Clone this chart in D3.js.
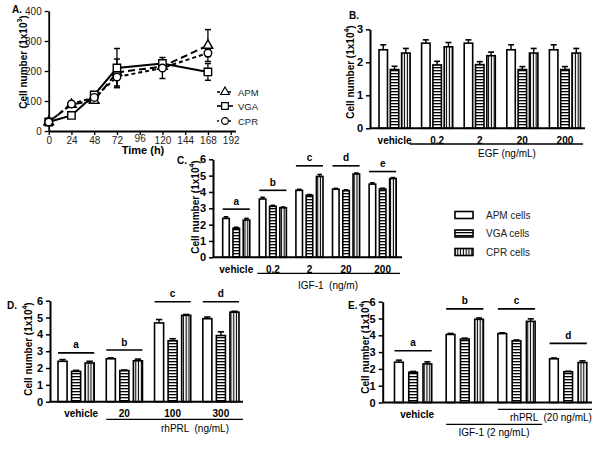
<!DOCTYPE html>
<html><head><meta charset="utf-8">
<script src="https://cdn.jsdelivr.net/npm/d3@7"></script>
<style>
body{margin:0;background:#fff;}
svg{display:block;font-family:"Liberation Sans",Arial,sans-serif;}
</style></head>
<body><svg id="c" width="600" height="450"></svg>
<script>
// ---------- DATA ----------
const seriesNames = ["APM", "VGA", "CPR"];
const legendLabels = ["APM cells", "VGA cells", "CPR cells"];

// Panel A: growth curves
const timeHours = [0, 24, 48, 72, 120, 168];
const timeTicks = [0, 24, 48, 72, 96, 120, 144, 168, 192];
const countTicksA = [0, 100, 200, 300, 400];
const apmA = [30, 88, 102, 195, 215, 285];
const apmAErr = [4, 6, 8, 45, 12, 53];
const vgaA = [30, 52, 120, 210, 225, 197];
const vgaAErr = [4, 5, 8, 65, 10, 28];
const cprA = [30, 90, 112, 180, 210, 260];
const cprAErr = [4, 5, 6, 35, 35, 12];

// Panel B: EGF
const groupsB = ["vehicle", "0.2", "2", "20", "200"];
const apmB = [2.38, 2.58, 2.58, 2.38, 2.38];
const vgaB = [1.78, 1.92, 1.93, 1.78, 1.78];
const cprB = [2.28, 2.47, 2.2, 2.28, 2.28];
const apmBErr = [0.15, 0.1, 0.1, 0.15, 0.15];
const vgaBErr = [0.1, 0.11, 0.09, 0.09, 0.09];
const cprBErr = [0.14, 0.13, 0.11, 0.14, 0.14];

// Panel C: IGF-1
const groupsC = ["vehicle", "0.2", "2", "20", "200"];
const apmC = [2.38, 3.57, 4.1, 4.17, 4.48];
const vgaC = [1.78, 3.12, 3.8, 4.08, 4.18];
const cprC = [2.28, 3.03, 4.95, 5.1, 4.82];
const apmCErr = [0.1, 0.1, 0.06, 0.05, 0.08];
const vgaCErr = [0.06, 0.06, 0.04, 0.05, 0.05];
const cprCErr = [0.1, 0.05, 0.12, 0.06, 0.06];
const sigC = ["a", "b", "c", "d", "e"];
const sigLevelC = [2.95, 4.1, 5.6, 5.6, 5.25];

// Panel D: rhPRL
const groupsD = ["vehicle", "20", "100", "300"];
const apmD = [2.4, 2.55, 4.68, 4.93];
const vgaD = [1.8, 1.85, 3.62, 3.93];
const cprD = [2.3, 2.43, 5.13, 5.32];
const apmDErr = [0.1, 0.05, 0.2, 0.1];
const vgaDErr = [0.06, 0.03, 0.12, 0.22];
const cprDErr = [0.1, 0.1, 0.05, 0.05];
const sigD = ["a", "b", "c", "d"];
const sigLevelD = [2.9, 3.07, 5.94, 5.94];

// Panel E: IGF-1 + rhPRL
const groupsE = ["vehicle", "IGF-1", "IGF-1+rhPRL", "rhPRL"];
const groupLabelsE = ["vehicle", "", "", ""];
const apmE = [2.4, 4.05, 4.1, 2.6];
const vgaE = [1.8, 3.78, 3.67, 1.83];
const cprE = [2.3, 4.95, 4.83, 2.38];
const apmEErr = [0.12, 0.06, 0.05, 0.05];
const vgaEErr = [0.05, 0.05, 0.05, 0.03];
const cprEErr = [0.12, 0.08, 0.15, 0.1];
const sigE = ["a", "b", "c", "d"];
const sigLevelE = [3.08, 5.57, 5.57, 3.52];

const ticks6 = [0, 1, 2, 3, 4, 5, 6];
const ticks3 = [0, 1, 2, 3];

// ---------- SETUP ----------
const svg = d3.select("#c");
svg.append("rect").attr("width", 600).attr("height", 450).attr("fill", "#fff");
const defs = svg.append("defs");
const hp = defs.append("pattern").attr("id", "hs").attr("patternUnits", "userSpaceOnUse")
  .attr("width", 6).attr("height", 3);
hp.append("rect").attr("width", 6).attr("height", 3).attr("fill", "#fff");
hp.append("rect").attr("y", 1).attr("width", 6).attr("height", 1.3).attr("fill", "#000");
const vp = defs.append("pattern").attr("id", "vs").attr("patternUnits", "userSpaceOnUse")
  .attr("width", 2.8).attr("height", 6);
vp.append("rect").attr("width", 2.8).attr("height", 6).attr("fill", "#fff");
vp.append("rect").attr("x", 0.8).attr("width", 1.1).attr("height", 6).attr("fill", "#000");
const fills = {APM: "#fff", VGA: "url(#hs)", CPR: "url(#vs)"};

function ylabel(g, x, y, pow) {
  const t = g.append("text").attr("transform", `translate(${x},${y}) rotate(-90)`)
    .attr("text-anchor", "middle").attr("font-size", 10).attr("font-weight", "bold")
    .attr("dominant-baseline", "central");
  t.append("tspan").text("Cell number (1x10");
  t.append("tspan").attr("font-size", 7).attr("dy", -4).text(pow);
  t.append("tspan").attr("dy", 4).text(")");
}
function panelLetter(x, y, s) {
  svg.append("text").attr("x", x).attr("y", y).attr("font-size", 10).attr("font-weight", "bold").text(s);
}

// ---------- PANEL A ----------
(function () {
  const g = svg.append("g");
  const x = d3.scaleLinear().domain([0, 197]).range([48.7, 235.4]);
  const y = d3.scaleLinear().domain([0, 400]).range([131, 11]);
  const ax = g.append("g").attr("transform", "translate(0,131)")
    .call(d3.axisBottom(x).tickValues(timeTicks).tickSize(4).tickSizeOuter(0));
  const ay = g.append("g").attr("transform", "translate(48.7,0)")
    .call(d3.axisLeft(y).tickValues(countTicksA).tickSize(4).tickSizeOuter(0));
  [ax, ay].forEach(a => {
    a.select(".domain").attr("stroke-width", 1.8);
    a.selectAll(".tick line").attr("stroke-width", 1.3);
    a.selectAll("text").attr("font-size", 10).attr("fill", "#222")
      .attr("font-family", "'Liberation Sans Narrow','Liberation Sans',Arial,sans-serif");
  });
  ax.selectAll("text").attr("dy", d => d === 96 ? "0.4em" : "0.6em");
  g.append("text").attr("x", 143).attr("y", 154).attr("text-anchor", "middle")
    .attr("font-size", 11).attr("font-weight", "bold").text("Time (h)");
  ylabel(g, 23, 62, "3");
  panelLetter(12, 13, "A.");

  const series = [
    {name: "APM", v: apmA, e: apmAErr, dash: "7,4", sym: d3.symbolTriangle, size: 40},
    {name: "VGA", v: vgaA, e: vgaAErr, dash: null, sym: d3.symbolSquare, size: 55},
    {name: "CPR", v: cprA, e: cprAErr, dash: "4,3", sym: d3.symbolCircle, size: 45}
  ];
  const line = d3.line();
  series.forEach(s => {
    const pts = timeHours.map((t, i) => [x(t), y(s.v[i])]);
    timeHours.forEach((t, i) => {
      const cx = x(t);
      const y1 = y(s.v[i] + s.e[i]), y0 = y(s.v[i] - s.e[i]);
      g.append("line").attr("x1", cx).attr("x2", cx).attr("y1", y1).attr("y2", y0)
        .attr("stroke", "#000").attr("stroke-width", 1.3);
      [y1, y0].forEach(yy => g.append("line").attr("x1", cx - 3).attr("x2", cx + 3)
        .attr("y1", yy).attr("y2", yy).attr("stroke", "#000").attr("stroke-width", 1.5));
    });
    g.append("path").attr("d", line(pts)).attr("fill", "none").attr("stroke", "#000")
      .attr("stroke-width", 2).attr("stroke-dasharray", s.dash);
  });
  series.forEach(s => {
    timeHours.forEach((t, i) => {
      g.append("path").attr("d", d3.symbol(s.sym, s.size)())
        .attr("transform", `translate(${x(t)},${y(s.v[i])})`)
        .attr("fill", "#fff").attr("stroke", "#000").attr("stroke-width", 1.4);
    });
  });
  const ly = [92, 106, 121];
  series.forEach((s, i) => {
    g.append("line").attr("x1", 217).attr("x2", 233).attr("y1", ly[i]).attr("y2", ly[i])
      .attr("stroke", "#000").attr("stroke-width", 1.6)
      .attr("stroke-dasharray", s.dash ? (s.name === "APM" ? "3,2.5" : "2,4") : null);
    g.append("path").attr("d", d3.symbol(s.sym, s.size * 0.8)())
      .attr("transform", `translate(225,${ly[i]})`)
      .attr("fill", "#fff").attr("stroke", "#000").attr("stroke-width", 1.2);
    g.append("text").attr("x", 238).attr("y", ly[i]).attr("dominant-baseline", "central")
      .attr("font-size", 9.5).attr("fill", "#222").text(s.name);
  });
})();

// ---------- BAR PANELS ----------
function barPanel(cfg) {
  const g = svg.append("g");
  const y = d3.scaleLinear().domain([0, cfg.ymax]).range([cfg.y0, cfg.y1]);
  const xg = d3.scaleBand().domain(cfg.groups).range(cfg.band).paddingInner(cfg.pi).paddingOuter(0);
  const xb = d3.scaleBand().domain(seriesNames).range([0, xg.bandwidth()]).paddingInner(cfg.bpi);
  const vals = {APM: cfg.apm, VGA: cfg.vga, CPR: cfg.cpr};
  const errs = {APM: cfg.apmErr, VGA: cfg.vgaErr, CPR: cfg.cprErr};
  cfg.groups.forEach((grp, i) => {
    seriesNames.forEach(s => {
      const bx = xg(grp) + xb(s), bw = xb.bandwidth();
      const top = y(vals[s][i]);
      const et = y(vals[s][i] + errs[s][i]);
      const cx = bx + bw / 2;
      g.append("line").attr("x1", cx).attr("x2", cx).attr("y1", top).attr("y2", et)
        .attr("stroke", "#000").attr("stroke-width", 1.4);
      g.append("line").attr("x1", cx - bw * 0.35).attr("x2", cx + bw * 0.35).attr("y1", et).attr("y2", et)
        .attr("stroke", "#000").attr("stroke-width", 1.6);
      g.append("rect").attr("x", bx).attr("y", top).attr("width", bw).attr("height", cfg.y0 - top)
        .attr("fill", fills[s]).attr("stroke", "#000").attr("stroke-width", 1.6);
    });
  });
  const ay = g.append("g").attr("transform", `translate(${cfg.ax[0]},0)`)
    .call(d3.axisLeft(y).tickValues(cfg.ticks).tickSize(4).tickSizeOuter(0).tickFormat(d3.format("d")));
  ay.select(".domain").attr("stroke-width", 2);
  ay.selectAll(".tick line").attr("stroke-width", 1.5);
  ay.selectAll("text").attr("font-size", 11).attr("font-weight", "bold");
  g.append("line").attr("x1", cfg.ax[0]).attr("x2", cfg.ax[1]).attr("y1", cfg.y0).attr("y2", cfg.y0)
    .attr("stroke", "#000").attr("stroke-width", 2);
  const glabels = cfg.groupLabels || cfg.groups;
  cfg.groups.forEach((grp, i) => {
    g.append("text").attr("x", xg(grp) + xg.bandwidth() / 2 + (i === 0 ? cfg.vehShift || 0 : 0))
      .attr("y", cfg.y0 + 12).attr("text-anchor", "middle").attr("dominant-baseline", "central")
      .attr("font-size", 10).attr("font-weight", "bold").text(glabels[i]);
  });
  if (cfg.sig) {
    cfg.groups.forEach((grp, i) => {
      const ly = y(cfg.sigLevel[i]);
      g.append("line").attr("x1", xg(grp)).attr("x2", xg(grp) + xg.bandwidth()).attr("y1", ly).attr("y2", ly)
        .attr("stroke", "#000").attr("stroke-width", 1.6);
      g.append("text").attr("x", xg(grp) + xg.bandwidth() / 2).attr("y", ly - 8)
        .attr("text-anchor", "middle").attr("dominant-baseline", "central")
        .attr("font-size", 10).attr("font-weight", "bold").text(cfg.sig[i]);
    });
  }
  return {g, xg, y};
}

// B
(function () {
  const p = barPanel({groups: groupsB, apm: apmB, vga: vgaB, cpr: cprB, apmErr: apmBErr, vgaErr: vgaBErr, cprErr: cprBErr,
    ymax: 3, ticks: ticks3, y0: 128.3, y1: 29.3, band: [379, 580.5], pi: 0.27, bpi: 0.25, ax: [370, 585]});
  const xs = p.xg("0.2") - 12;
  p.g.append("line").attr("x1", xs).attr("x2", 583).attr("y1", 144).attr("y2", 144).attr("stroke", "#000").attr("stroke-width", 1.3);
  p.g.append("text").attr("x", 507).attr("y", 153).attr("text-anchor", "middle").attr("dominant-baseline", "central")
    .attr("font-size", 10).text("EGF (ng/mL)");
  ylabel(p.g, 350, 72, "4");
  panelLetter(349, 19, "B.");
})();

// C
(function () {
  const p = barPanel({groups: groupsC, apm: apmC, vga: vgaC, cpr: cprC, apmErr: apmCErr, vgaErr: vgaCErr, cprErr: cprCErr,
    ymax: 6, ticks: ticks6, y0: 257.3, y1: 159.3, band: [222.7, 396.2], pi: 0.26, bpi: 0.36, ax: [213, 402],
    sig: sigC, sigLevel: sigLevelC});
  p.g.append("line").attr("x1", p.xg("0.2") - 2).attr("x2", 400).attr("y1", 273.3).attr("y2", 273.3).attr("stroke", "#000").attr("stroke-width", 1.3);
  p.g.append("text").attr("x", 328).attr("y", 285.7).attr("text-anchor", "middle").attr("dominant-baseline", "central")
    .attr("font-size", 10).attr("xml:space", "preserve").text("IGF-1  (ng/m)");
  ylabel(p.g, 195, 207, "4");
  panelLetter(177, 164, "C.");
})();

// D
(function () {
  const p = barPanel({groups: groupsD, apm: apmD, vga: vgaD, cpr: cprD, apmErr: apmDErr, vgaErr: vgaDErr, cprErr: cprDErr,
    ymax: 6, ticks: ticks6, y0: 401.7, y1: 300.7, band: [58, 239], pi: 0.25, bpi: 0.33, ax: [50, 243],
    sig: sigD, sigLevel: sigLevelD, vehShift: 5});
  p.g.append("line").attr("x1", p.xg("20")).attr("x2", 243).attr("y1", 419.3).attr("y2", 419.3).attr("stroke", "#000").attr("stroke-width", 1.3);
  p.g.append("text").attr("x", 195).attr("y", 428).attr("text-anchor", "middle").attr("dominant-baseline", "central")
    .attr("font-size", 10).attr("xml:space", "preserve").text("rhPRL  (ng/mL)");
  ylabel(p.g, 28, 349, "4");
  panelLetter(7, 309, "D.");
})();

// E
(function () {
  const p = barPanel({groups: groupsE, groupLabels: groupLabelsE, apm: apmE, vga: vgaE, cpr: cprE, apmErr: apmEErr, vgaErr: vgaEErr, cprErr: cprEErr,
    ymax: 6, ticks: ticks6, y0: 402.5, y1: 301.7, band: [394.5, 586.8], pi: 0.28, bpi: 0.39, ax: [382.7, 592],
    sig: sigE, sigLevel: sigLevelE, vehShift: 4});
  p.g.append("line").attr("x1", p.xg("IGF-1+rhPRL")).attr("x2", 592).attr("y1", 409.3).attr("y2", 409.3).attr("stroke", "#000").attr("stroke-width", 1.3);
  p.g.append("line").attr("x1", p.xg("IGF-1")).attr("x2", 542).attr("y1", 424.3).attr("y2", 424.3).attr("stroke", "#000").attr("stroke-width", 1.3);
  p.g.append("text").attr("x", 510).attr("y", 417).attr("dominant-baseline", "central")
    .attr("font-size", 10).attr("xml:space", "preserve").text("rhPRL  (20 ng/mL)");
  p.g.append("text").attr("x", 494).attr("y", 432).attr("text-anchor", "middle").attr("dominant-baseline", "central")
    .attr("font-size", 10).text("IGF-1 (2 ng/mL)");
  ylabel(p.g, 365, 347, "4");
  panelLetter(348, 309, "E.");
})();

// ---------- CENTRAL LEGEND ----------
(function () {
  const ly = [215, 233.5, 252];
  seriesNames.forEach((s, i) => {
    svg.append("rect").attr("x", 455).attr("y", ly[i] - 3.5).attr("width", 18).attr("height", 7)
      .attr("fill", fills[s]).attr("stroke", "#000").attr("stroke-width", 1.6);
    svg.append("text").attr("x", 486).attr("y", ly[i]).attr("dominant-baseline", "central")
      .attr("font-size", 10).attr("fill", "#222").text(legendLabels[i]);
  });
})();
</script></body></html>
